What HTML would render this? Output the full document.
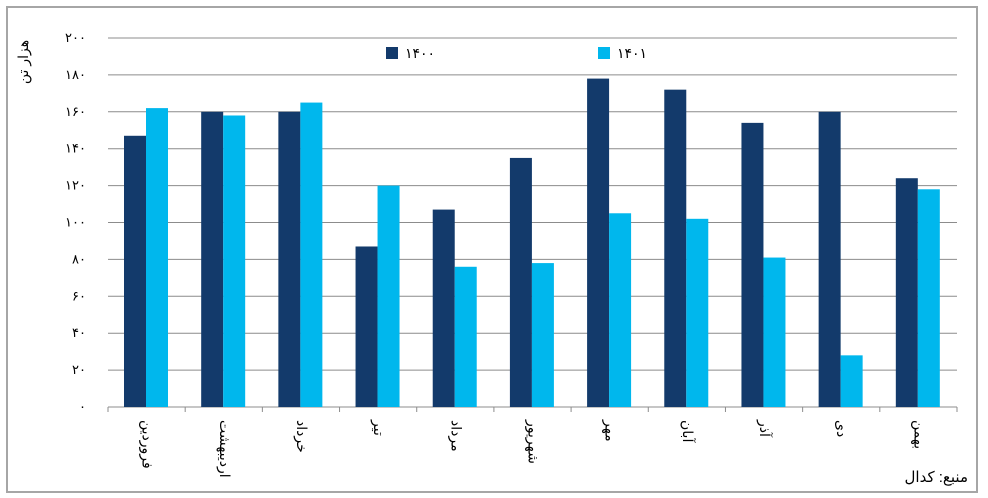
<!DOCTYPE html>
<html><head><meta charset="utf-8"><style>
body{margin:0;background:#fff}
svg{display:block;font-family:"Liberation Sans","DejaVu Sans",sans-serif}
</style></head><body>
<svg id="chart" width="988" height="498" viewBox="0 0 988 498">
<rect x="7" y="7" width="970" height="485" fill="#fff" stroke="#a6a6a6" stroke-width="2"/>
<g id="grid"></g><g id="bars"></g><g id="xlabels"></g>
<text x="28" y="62" transform="rotate(-90 28 62)" text-anchor="middle" font-size="14" fill="#000">هزار تن</text>
<rect x="386" y="47" width="12" height="12" fill="#133a6b"/>
<text x="405" y="58" font-size="14">۱۴۰۰</text>
<rect x="598" y="47" width="12" height="12" fill="#00b7ed"/>
<text x="617" y="58" font-size="14">۱۴۰۱</text>
<text x="968" y="482" text-anchor="end" font-size="15">منبع: کدال</text>
</svg>
<script>
const categories=["فروردین","اردیبهشت","خرداد","تیر","مرداد","شهریور","مهر","آبان","آذر","دی","بهمن"];
const series1400=[147,160,160,87,107,135,178,172,154,160,124];
const series1401=[162,158,165,120,76,78,105,102,81,28,118];
const yTicks=[0,20,40,60,80,100,120,140,160,180,200];
const yTickLabels=["۰","۲۰","۴۰","۶۰","۸۰","۱۰۰","۱۲۰","۱۴۰","۱۶۰","۱۸۰","۲۰۰"];
const NS="http://www.w3.org/2000/svg";
const X0=108,X1=957,Y0=407,Y1=38,YMAX=200;
const cw=(X1-X0)/categories.length;
const y=v=>Y0-(v/YMAX)*(Y0-Y1);
const x=i=>X0+i*cw;
function mk(tag,attrs,parent){const e=document.createElementNS(NS,tag);for(const k in attrs)e.setAttribute(k,attrs[k]);parent.appendChild(e);return e;}
const grid=document.getElementById('grid'),bars=document.getElementById('bars'),xl=document.getElementById('xlabels');
yTicks.forEach((t,i)=>{
  if(t>0){const l=mk('line',{x1:X0,x2:X1,y1:y(t),y2:y(t),stroke:'#8c8c8c','stroke-width':1},grid);
  
  }
  const tx=mk('text',{x:86,y:y(t)+4,'text-anchor':'end','font-size':13},grid);
  tx.textContent=yTickLabels[i];
  
  
});
const ax=mk('line',{x1:X0,x2:X1,y1:Y0,y2:Y0,stroke:'#8c8c8c','stroke-width':1},grid);


for(let i=0;i<=categories.length;i++){
  const tk=mk('line',{x1:x(i),x2:x(i),y1:Y0,y2:Y0+5,stroke:'#8c8c8c'},grid);
  
  
}
categories.forEach((c,i)=>{
  const bw=22,off=16;
  const b1=mk('rect',{x:x(i)+off,y:y(series1400[i]),width:bw,height:Y0-y(series1400[i]),fill:'#133a6b'},bars);
  
  
  const b2=mk('rect',{x:x(i)+off+bw,y:y(series1401[i]),width:bw,height:Y0-y(series1401[i]),fill:'#00b7ed'},bars);
  
  
  const cx=x(i)+cw/2-4,ty=420;
  const t=mk('text',{x:cx,y:ty,transform:`rotate(90 ${cx} ${ty})`,'font-size':14,'text-anchor':'start'},xl);
  t.textContent=c;
  
  
});
</script>
</body></html>
